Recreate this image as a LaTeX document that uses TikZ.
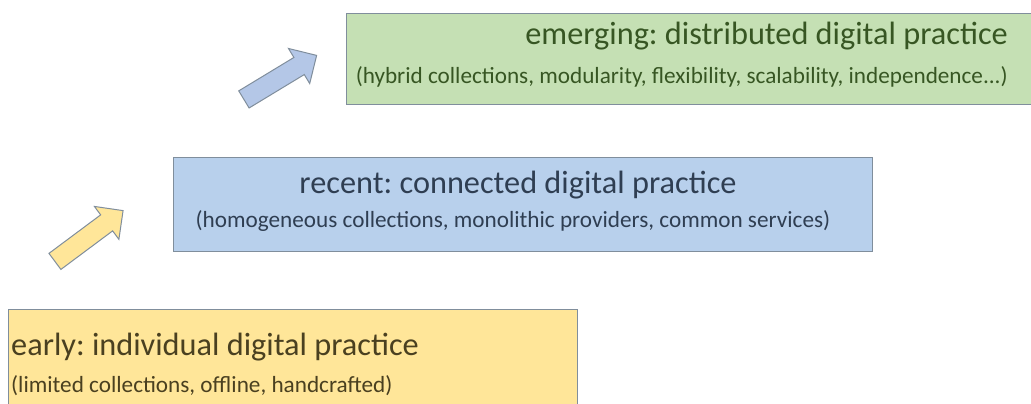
\documentclass[tikz,border=0pt]{standalone}
\usepackage{fontspec}
\setmainfont{Carlito}
\usepackage{xcolor}
\usetikzlibrary{shapes.arrows}
\definecolor{stgreen}{RGB}{197,224,180}
\definecolor{stgreentext}{RGB}{55,86,35}
\definecolor{stblue}{RGB}{184,208,236}
\definecolor{stbluetext}{RGB}{47,62,82}
\definecolor{styellow}{RGB}{255,230,153}
\definecolor{styellowtext}{RGB}{74,64,32}
\definecolor{stborder}{RGB}{128,142,156}
\definecolor{arrowblue}{RGB}{180,199,231}

\tikzset{
  stagebox/.style={rectangle, draw=stborder, line width=1.2pt, anchor=north west, inner sep=0pt},
  stagetitle/.style={inner sep=0pt, font=\fontsize{32.3}{36}\selectfont},
  stagenote/.style={inner sep=0pt, font=\fontsize{23.2}{26}\selectfont},
  stagearrow/.style={single arrow, draw=stborder, line width=1pt, minimum height=85pt, minimum width=40pt,
    inner xsep=0pt, inner ysep=9.5pt, single arrow head extend=10.5pt},
}
\frenchspacing

\begin{document}
\begin{tikzpicture}[x=1pt, y=-1pt]
\clip (0,0) rectangle (1031,404);
\fill[white] (0,0) rectangle (1031,404);
% the three stages
\node[stagebox, fill=stgreen, minimum width=700pt, minimum height=91pt] (emerging) at (346,13) {};
\node[stagebox, fill=stblue, minimum width=699pt, minimum height=94pt] (recent) at (173,157) {};
\node[stagebox, fill=styellow, minimum width=569pt, minimum height=110pt] (early) at (8,309) {};
% texts
\node[stagetitle, text=stgreentext, anchor=base east] (emergingtitle) at (1008,45) {emerging: distributed digital practice};
\node[stagenote, text=stgreentext, anchor=base east] (emergingnote) at (1008,84) {(hybrid collections, modularity, flexibility, scalability, independence...)};
\node[stagetitle, text=stbluetext, anchor=base] (recenttitle) at (518,193) {recent: connected digital practice};
\node[stagenote, text=stbluetext, anchor=base] (recentnote) at (513,227) {(homogeneous collections, monolithic providers, common services)};
\node[stagetitle, text=styellowtext, anchor=base west] (earlytitle) at (11,355) {early: individual digital practice};
\node[stagenote, text=styellowtext, anchor=base west] (earlynote) at (11,392) {(limited collections, offline, handcrafted)};
% arrows between the stages
\node[stagearrow, fill=styellow, rotate=36.7] (earlyarrow) at (85,239) {};
\node[stagearrow, fill=arrowblue, rotate=31.2] (recentarrow) at (276,80) {};
\end{tikzpicture}
\end{document}
